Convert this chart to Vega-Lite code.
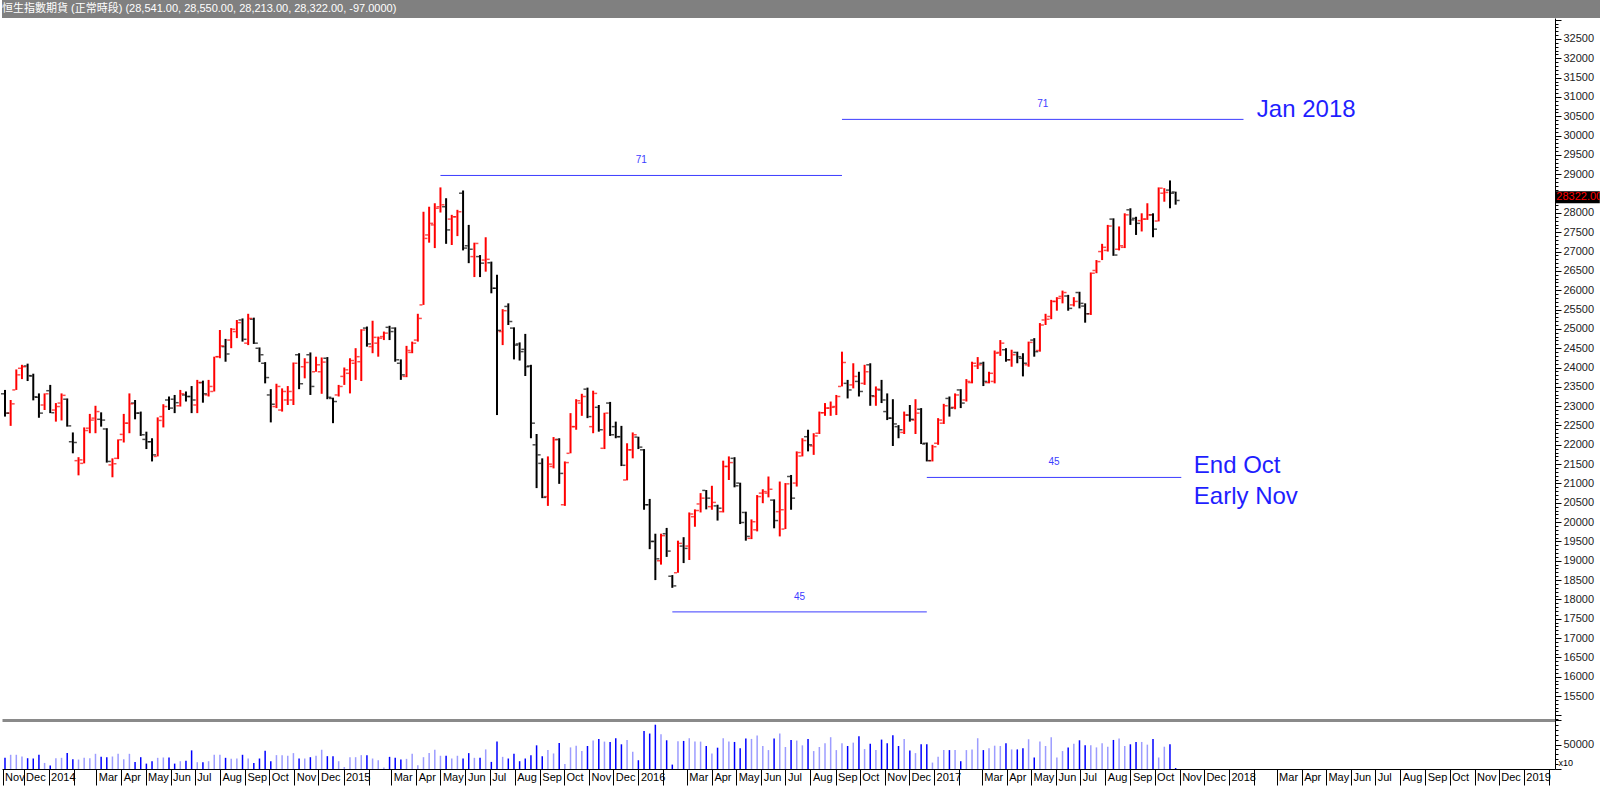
{
  "$schema": "https://vega.github.io/schema/vega-lite/v6.json",
  "padding": 0,
  "background": "white",
  "spacing": 0,
  "bounds": "flush",
  "config": {"view": {"stroke": null}, "axis": {"grid": false, "labelFont": "Liberation Sans", "domainColor": "#000000", "tickColor": "#000000"}},
  "datasets": {
    "bars": [
      {"d":"2013-11-08","o":23320,"h":23420,"l":22730,"c":22820,"v":22800},
      {"d":"2013-11-15","o":22820,"h":23160,"l":22490,"c":23060,"v":29000},
      {"d":"2013-11-22","o":23420,"h":23950,"l":23420,"c":23810,"v":29000},
      {"d":"2013-11-29","o":23980,"h":24070,"l":23700,"c":24020,"v":25500},
      {"d":"2013-12-06","o":24040,"h":24100,"l":23650,"c":23790,"v":22000},
      {"d":"2013-12-13","o":23780,"h":23840,"l":23150,"c":23240,"v":21400},
      {"d":"2013-12-20","o":23230,"h":23330,"l":22700,"c":22820,"v":29000},
      {"d":"2013-12-27","o":23030,"h":23330,"l":22900,"c":23320,"v":12400},
      {"d":"2014-01-03","o":23400,"h":23550,"l":22820,"c":22830,"v":6900},
      {"d":"2014-01-10","o":22900,"h":23080,"l":22600,"c":22990,"v":22000},
      {"d":"2014-01-17","o":23080,"h":23330,"l":22630,"c":23280,"v":22800},
      {"d":"2014-01-24","o":23180,"h":23200,"l":22470,"c":22490,"v":32400},
      {"d":"2014-01-31","o":22080,"h":22320,"l":21780,"c":22060,"v":20000},
      {"d":"2014-02-07","o":21590,"h":21680,"l":21210,"c":21610,"v":19300},
      {"d":"2014-02-14","o":21520,"h":22450,"l":21520,"c":22370,"v":22800},
      {"d":"2014-02-21","o":22430,"h":22800,"l":22300,"c":22640,"v":22000},
      {"d":"2014-02-28","o":22690,"h":23010,"l":22300,"c":22860,"v":31000},
      {"d":"2014-03-07","o":22660,"h":22840,"l":22470,"c":22640,"v":24800},
      {"d":"2014-03-14","o":22410,"h":22430,"l":21540,"c":21570,"v":24100},
      {"d":"2014-03-21","o":21480,"h":21650,"l":21160,"c":21510,"v":25500},
      {"d":"2014-03-28","o":21650,"h":22140,"l":21630,"c":22130,"v":31000},
      {"d":"2014-04-04","o":22270,"h":22800,"l":22060,"c":22560,"v":20000},
      {"d":"2014-04-11","o":22560,"h":23330,"l":22300,"c":23060,"v":31000},
      {"d":"2014-04-18","o":23080,"h":23160,"l":22660,"c":22820,"v":14500},
      {"d":"2014-04-25","o":22820,"h":22860,"l":22230,"c":22260,"v":24100},
      {"d":"2014-05-02","o":22140,"h":22340,"l":21890,"c":22080,"v":11000},
      {"d":"2014-05-09","o":22080,"h":22170,"l":21570,"c":21740,"v":15900},
      {"d":"2014-05-16","o":21700,"h":22710,"l":21700,"c":22630,"v":22800},
      {"d":"2014-05-23","o":22730,"h":23050,"l":22450,"c":22990,"v":23500},
      {"d":"2014-05-30","o":23160,"h":23250,"l":22900,"c":22950,"v":23500},
      {"d":"2014-06-06","o":23180,"h":23290,"l":22820,"c":23090,"v":11000},
      {"d":"2014-06-13","o":23010,"h":23420,"l":22990,"c":23320,"v":15900},
      {"d":"2014-06-20","o":23290,"h":23380,"l":23120,"c":23250,"v":16600},
      {"d":"2014-06-27","o":23250,"h":23520,"l":22820,"c":23160,"v":38000},
      {"d":"2014-07-04","o":23030,"h":23680,"l":22820,"c":23610,"v":13800},
      {"d":"2014-07-11","o":23610,"h":23660,"l":23090,"c":23320,"v":13800},
      {"d":"2014-07-18","o":23290,"h":23680,"l":23250,"c":23510,"v":15900},
      {"d":"2014-07-25","o":23380,"h":24280,"l":23380,"c":24280,"v":29000},
      {"d":"2014-08-01","o":24280,"h":24970,"l":24240,"c":24560,"v":29000},
      {"d":"2014-08-08","o":24540,"h":24740,"l":24150,"c":24350,"v":22800},
      {"d":"2014-08-15","o":24710,"h":25020,"l":24500,"c":24990,"v":20700},
      {"d":"2014-08-22","o":24930,"h":25230,"l":24760,"c":25160,"v":21400},
      {"d":"2014-08-29","o":25230,"h":25270,"l":24670,"c":24730,"v":29000},
      {"d":"2014-09-05","o":24630,"h":25390,"l":24580,"c":25270,"v":21400},
      {"d":"2014-09-12","o":25250,"h":25290,"l":24610,"c":24630,"v":12400},
      {"d":"2014-09-19","o":24500,"h":24520,"l":24140,"c":24330,"v":21400},
      {"d":"2014-09-26","o":24110,"h":24140,"l":23590,"c":23740,"v":37300},
      {"d":"2014-10-03","o":23290,"h":23440,"l":22580,"c":23050,"v":15900},
      {"d":"2014-10-10","o":22990,"h":23580,"l":22950,"c":23510,"v":28300},
      {"d":"2014-10-17","o":22900,"h":23460,"l":22860,"c":23380,"v":28300},
      {"d":"2014-10-24","o":23160,"h":23520,"l":23030,"c":23380,"v":27000},
      {"d":"2014-10-31","o":23160,"h":24130,"l":23030,"c":24110,"v":32400},
      {"d":"2014-11-07","o":24330,"h":24370,"l":23440,"c":23580,"v":21400},
      {"d":"2014-11-14","o":24020,"h":24240,"l":23720,"c":24130,"v":21400},
      {"d":"2014-11-21","o":24330,"h":24390,"l":23290,"c":23510,"v":24100},
      {"d":"2014-11-28","o":23890,"h":24280,"l":23890,"c":24070,"v":27000},
      {"d":"2014-12-05","o":23890,"h":24260,"l":23320,"c":24140,"v":39300},
      {"d":"2014-12-12","o":24240,"h":24270,"l":23180,"c":23230,"v":26200},
      {"d":"2014-12-19","o":23200,"h":23220,"l":22560,"c":23120,"v":26200},
      {"d":"2014-12-26","o":23290,"h":23550,"l":23250,"c":23510,"v":15900},
      {"d":"2015-01-02","o":23770,"h":24000,"l":23550,"c":23940,"v":4100},
      {"d":"2015-01-09","o":23850,"h":24240,"l":23330,"c":24180,"v":24100},
      {"d":"2015-01-16","o":24110,"h":24500,"l":23680,"c":24280,"v":24100},
      {"d":"2015-01-23","o":24150,"h":24990,"l":23650,"c":24970,"v":28300},
      {"d":"2015-01-30","o":25020,"h":25060,"l":24540,"c":24610,"v":28300},
      {"d":"2015-02-06","o":24540,"h":25210,"l":24370,"c":24780,"v":21400},
      {"d":"2015-02-13","o":24630,"h":24800,"l":24280,"c":24760,"v":17900},
      {"d":"2015-02-20","o":24800,"h":24930,"l":24710,"c":24890,"v":3000},
      {"d":"2015-02-27","o":25040,"h":25080,"l":24710,"c":24930,"v":24800},
      {"d":"2015-03-06","o":25020,"h":25040,"l":24150,"c":24200,"v":22800},
      {"d":"2015-03-13","o":24110,"h":24210,"l":23680,"c":23810,"v":19300},
      {"d":"2015-03-20","o":23770,"h":24560,"l":23750,"c":24440,"v":20700},
      {"d":"2015-03-27","o":24390,"h":24670,"l":24370,"c":24630,"v":31000},
      {"d":"2015-04-03","o":24710,"h":25390,"l":24670,"c":25270,"v":7600},
      {"d":"2015-04-10","o":25620,"h":28030,"l":25620,"c":27340,"v":24100},
      {"d":"2015-04-17","o":27430,"h":28160,"l":27230,"c":27730,"v":32400},
      {"d":"2015-04-24","o":27690,"h":28250,"l":27090,"c":28120,"v":39300},
      {"d":"2015-05-01","o":28160,"h":28660,"l":28010,"c":28210,"v":27000},
      {"d":"2015-05-08","o":28160,"h":28380,"l":27200,"c":27560,"v":27000},
      {"d":"2015-05-15","o":27840,"h":27950,"l":27170,"c":27900,"v":21400},
      {"d":"2015-05-22","o":27900,"h":28080,"l":27400,"c":28030,"v":27000},
      {"d":"2015-05-29","o":28510,"h":28580,"l":27030,"c":27090,"v":21400},
      {"d":"2015-06-05","o":27150,"h":27690,"l":26700,"c":27060,"v":32400},
      {"d":"2015-06-12","o":26870,"h":27230,"l":26340,"c":27210,"v":22800},
      {"d":"2015-06-19","o":26870,"h":26910,"l":26340,"c":26700,"v":22800},
      {"d":"2015-06-26","o":26780,"h":27370,"l":26480,"c":26800,"v":40000},
      {"d":"2015-07-03","o":26710,"h":26740,"l":25920,"c":26050,"v":14500},
      {"d":"2015-07-10","o":26050,"h":26400,"l":22770,"c":24960,"v":55900},
      {"d":"2015-07-17","o":24930,"h":25510,"l":24580,"c":25470,"v":24800},
      {"d":"2015-07-24","o":25580,"h":25660,"l":25100,"c":25190,"v":21400},
      {"d":"2015-07-31","o":25020,"h":25040,"l":24210,"c":24580,"v":31000},
      {"d":"2015-08-07","o":24610,"h":24650,"l":24180,"c":24410,"v":15900},
      {"d":"2015-08-14","o":24470,"h":24870,"l":23780,"c":24020,"v":21400},
      {"d":"2015-08-21","o":24040,"h":24070,"l":22170,"c":22560,"v":28300},
      {"d":"2015-08-28","o":22000,"h":22280,"l":20880,"c":21740,"v":48300},
      {"d":"2015-09-04","o":21520,"h":21650,"l":20620,"c":20640,"v":26200},
      {"d":"2015-09-11","o":20660,"h":21700,"l":20420,"c":21500,"v":38600},
      {"d":"2015-09-18","o":21440,"h":22200,"l":21390,"c":22130,"v":31700},
      {"d":"2015-09-25","o":22140,"h":22170,"l":20990,"c":21260,"v":53100},
      {"d":"2015-10-02","o":20450,"h":21570,"l":20420,"c":21540,"v":10300},
      {"d":"2015-10-09","o":21780,"h":22820,"l":21780,"c":22470,"v":44100},
      {"d":"2015-10-16","o":22470,"h":23180,"l":22390,"c":23140,"v":47600},
      {"d":"2015-10-23","o":23080,"h":23320,"l":22750,"c":23250,"v":36600},
      {"d":"2015-10-30","o":23440,"h":23480,"l":22690,"c":22730,"v":46900},
      {"d":"2015-11-06","o":22470,"h":23400,"l":22300,"c":23330,"v":58000},
      {"d":"2015-11-13","o":22970,"h":23030,"l":22340,"c":22390,"v":61400},
      {"d":"2015-11-20","o":21910,"h":22830,"l":21890,"c":22820,"v":55900},
      {"d":"2015-11-27","o":23080,"h":23110,"l":22230,"c":22260,"v":55200},
      {"d":"2015-12-04","o":22470,"h":22600,"l":22170,"c":22210,"v":62800},
      {"d":"2015-12-11","o":22210,"h":22490,"l":21450,"c":21470,"v":50400},
      {"d":"2015-12-18","o":21090,"h":22040,"l":21080,"c":21870,"v":59300},
      {"d":"2015-12-25","o":21870,"h":22320,"l":21650,"c":22260,"v":35200},
      {"d":"2016-01-01","o":22200,"h":22210,"l":21890,"c":21940,"v":17900},
      {"d":"2016-01-08","o":21870,"h":21890,"l":20320,"c":20450,"v":77300},
      {"d":"2016-01-15","o":20450,"h":20600,"l":19300,"c":19500,"v":72400},
      {"d":"2016-01-22","o":19500,"h":19700,"l":18500,"c":19050,"v":90400},
      {"d":"2016-01-29","o":19000,"h":19700,"l":18900,"c":19650,"v":71100},
      {"d":"2016-02-05","o":19700,"h":19850,"l":19100,"c":19250,"v":58600},
      {"d":"2016-02-12","o":18600,"h":18630,"l":18300,"c":18350,"v":9000},
      {"d":"2016-02-19","o":18690,"h":19520,"l":18690,"c":19450,"v":56600},
      {"d":"2016-02-26","o":19380,"h":19610,"l":18940,"c":19320,"v":57300},
      {"d":"2016-03-04","o":19380,"h":20250,"l":19020,"c":20210,"v":62800},
      {"d":"2016-03-11","o":20140,"h":20330,"l":19880,"c":20300,"v":55900},
      {"d":"2016-03-18","o":20470,"h":20750,"l":20250,"c":20620,"v":55900},
      {"d":"2016-03-25","o":20820,"h":20830,"l":20330,"c":20620,"v":46900},
      {"d":"2016-04-01","o":20400,"h":20940,"l":20320,"c":20510,"v":31700},
      {"d":"2016-04-08","o":20420,"h":20450,"l":20040,"c":20360,"v":43500},
      {"d":"2016-04-15","o":20270,"h":21590,"l":20250,"c":21440,"v":62800},
      {"d":"2016-04-22","o":21440,"h":21700,"l":21090,"c":21540,"v":55900},
      {"d":"2016-04-29","o":21650,"h":21680,"l":20900,"c":20940,"v":55200},
      {"d":"2016-05-06","o":21010,"h":21020,"l":19950,"c":19990,"v":42100},
      {"d":"2016-05-13","o":20250,"h":20270,"l":19520,"c":19630,"v":62100},
      {"d":"2016-05-20","o":19580,"h":20070,"l":19560,"c":20010,"v":61400},
      {"d":"2016-05-27","o":19800,"h":20700,"l":19760,"c":20660,"v":68300},
      {"d":"2016-06-03","o":20750,"h":20850,"l":20490,"c":20790,"v":46900},
      {"d":"2016-06-10","o":20750,"h":21180,"l":20640,"c":20850,"v":38600},
      {"d":"2016-06-17","o":20570,"h":20590,"l":19840,"c":20040,"v":62100},
      {"d":"2016-06-24","o":20270,"h":21050,"l":19630,"c":20320,"v":72400},
      {"d":"2016-07-01","o":19820,"h":21010,"l":19820,"c":20990,"v":44900},
      {"d":"2016-07-08","o":21180,"h":21220,"l":20320,"c":20620,"v":59300},
      {"d":"2016-07-15","o":21010,"h":21830,"l":20920,"c":21800,"v":58000},
      {"d":"2016-07-22","o":21710,"h":22170,"l":21700,"c":22110,"v":48300},
      {"d":"2016-07-29","o":22210,"h":22390,"l":21830,"c":22000,"v":61400},
      {"d":"2016-08-05","o":21970,"h":22300,"l":21740,"c":22230,"v":36600},
      {"d":"2016-08-12","o":22300,"h":22860,"l":22280,"c":22830,"v":44900},
      {"d":"2016-08-19","o":22830,"h":23080,"l":22750,"c":22950,"v":52400},
      {"d":"2016-08-26","o":22950,"h":23120,"l":22750,"c":22970,"v":64900},
      {"d":"2016-09-02","o":22990,"h":23290,"l":22770,"c":23250,"v":38600},
      {"d":"2016-09-09","o":23510,"h":24410,"l":23510,"c":24130,"v":52400},
      {"d":"2016-09-16","o":23590,"h":23680,"l":23200,"c":23420,"v":46900},
      {"d":"2016-09-23","o":23550,"h":24110,"l":23460,"c":23770,"v":53800},
      {"d":"2016-09-30","o":23640,"h":23890,"l":23250,"c":23380,"v":66900},
      {"d":"2016-10-07","o":23590,"h":24070,"l":23550,"c":23890,"v":40700},
      {"d":"2016-10-14","o":24070,"h":24110,"l":23010,"c":23270,"v":51700},
      {"d":"2016-10-21","o":23250,"h":23510,"l":23010,"c":23440,"v":38600},
      {"d":"2016-10-28","o":23420,"h":23680,"l":23080,"c":23160,"v":60000},
      {"d":"2016-11-04","o":22860,"h":23330,"l":22640,"c":22690,"v":52400},
      {"d":"2016-11-11","o":22690,"h":23180,"l":21970,"c":22540,"v":69000},
      {"d":"2016-11-18","o":22470,"h":22510,"l":22170,"c":22390,"v":46900},
      {"d":"2016-11-25","o":22320,"h":22860,"l":22280,"c":22770,"v":61400},
      {"d":"2016-12-02","o":22770,"h":23030,"l":22600,"c":22660,"v":38000},
      {"d":"2016-12-09","o":22640,"h":23180,"l":22280,"c":22820,"v":32400},
      {"d":"2016-12-16","o":22920,"h":22950,"l":22020,"c":22020,"v":50400},
      {"d":"2016-12-23","o":22040,"h":22060,"l":21570,"c":21590,"v":50400},
      {"d":"2016-12-30","o":21590,"h":22000,"l":21570,"c":21950,"v":13100},
      {"d":"2017-01-06","o":22040,"h":22690,"l":22000,"c":22640,"v":24800},
      {"d":"2017-01-13","o":22560,"h":23060,"l":22540,"c":23010,"v":38600},
      {"d":"2017-01-20","o":23200,"h":23250,"l":22730,"c":22950,"v":38600},
      {"d":"2017-01-27","o":22970,"h":23330,"l":22920,"c":23290,"v":38600},
      {"d":"2017-02-03","o":23420,"h":23440,"l":22950,"c":23080,"v":15900},
      {"d":"2017-02-10","o":23160,"h":23700,"l":23120,"c":23640,"v":38600},
      {"d":"2017-02-17","o":23610,"h":24150,"l":23590,"c":24110,"v":40000},
      {"d":"2017-02-24","o":24040,"h":24270,"l":23960,"c":24070,"v":62800},
      {"d":"2017-03-03","o":24110,"h":24150,"l":23520,"c":23640,"v":38600},
      {"d":"2017-03-10","o":23610,"h":23890,"l":23590,"c":23850,"v":42100},
      {"d":"2017-03-17","o":23640,"h":24440,"l":23590,"c":24370,"v":47600},
      {"d":"2017-03-24","o":24390,"h":24710,"l":24300,"c":24630,"v":46900},
      {"d":"2017-03-31","o":24460,"h":24500,"l":24150,"c":24200,"v":52400},
      {"d":"2017-04-07","o":24200,"h":24460,"l":24020,"c":24330,"v":40000},
      {"d":"2017-04-14","o":24390,"h":24410,"l":24110,"c":24280,"v":40000},
      {"d":"2017-04-21","o":24240,"h":24370,"l":23770,"c":24110,"v":42100},
      {"d":"2017-04-28","o":24070,"h":24670,"l":24020,"c":24650,"v":60700},
      {"d":"2017-05-05","o":24710,"h":24760,"l":24280,"c":24410,"v":23500},
      {"d":"2017-05-12","o":24440,"h":25150,"l":24410,"c":25100,"v":55900},
      {"d":"2017-05-19","o":25230,"h":25390,"l":25100,"c":25250,"v":46900},
      {"d":"2017-05-26","o":25320,"h":25750,"l":25250,"c":25710,"v":64900},
      {"d":"2017-06-02","o":25710,"h":25820,"l":25470,"c":25790,"v":23500},
      {"d":"2017-06-09","o":25840,"h":25990,"l":25660,"c":25940,"v":36600},
      {"d":"2017-06-16","o":25850,"h":25880,"l":25470,"c":25530,"v":44100},
      {"d":"2017-06-23","o":25620,"h":25820,"l":25580,"c":25710,"v":51700},
      {"d":"2017-06-30","o":25940,"h":25960,"l":25530,"c":25660,"v":58600},
      {"d":"2017-07-07","o":25590,"h":25660,"l":25160,"c":25390,"v":48300},
      {"d":"2017-07-14","o":25390,"h":26460,"l":25360,"c":26440,"v":48300},
      {"d":"2017-07-21","o":26510,"h":26780,"l":26440,"c":26740,"v":44100},
      {"d":"2017-07-28","o":27000,"h":27200,"l":26780,"c":27110,"v":52400},
      {"d":"2017-08-04","o":27030,"h":27690,"l":27000,"c":27660,"v":45500},
      {"d":"2017-08-11","o":27840,"h":27860,"l":26890,"c":26910,"v":59300},
      {"d":"2017-08-18","o":27060,"h":27650,"l":27030,"c":27150,"v":62100},
      {"d":"2017-08-25","o":27110,"h":27990,"l":27090,"c":27950,"v":46900},
      {"d":"2017-09-01","o":28080,"h":28120,"l":27690,"c":27820,"v":50400},
      {"d":"2017-09-08","o":27860,"h":27900,"l":27430,"c":27730,"v":55200},
      {"d":"2017-09-15","o":27800,"h":27990,"l":27520,"c":27840,"v":55200},
      {"d":"2017-09-22","o":27840,"h":28250,"l":27820,"c":27950,"v":49700},
      {"d":"2017-09-29","o":27950,"h":27990,"l":27370,"c":27580,"v":61400},
      {"d":"2017-10-06","o":27790,"h":28660,"l":27780,"c":28640,"v":23500},
      {"d":"2017-10-13","o":28510,"h":28640,"l":28290,"c":28530,"v":45500},
      {"d":"2017-10-20","o":28590,"h":28840,"l":28120,"c":28510,"v":50400},
      {"d":"2017-10-27","o":28541,"h":28550,"l":28213,"c":28322,"v":2000}
    ],
    "spans": [
      {"d1":"2015-05-01","d2":"2016-09-09","dm":"2016-01-04T12:00:00Z","p":28969,"n":"71"},
      {"d1":"2016-09-09","d2":"2018-01-19","dm":"2017-05-15T12:00:00Z","p":30420,"n":"71"},
      {"d1":"2016-02-12","d2":"2016-12-23","dm":"2016-07-18T12:00:00Z","p":17677,"n":"45"},
      {"d1":"2016-12-23","d2":"2017-11-03","dm":"2017-05-29T12:00:00Z","p":21156,"n":"45"}
    ],
    "notes": [
      {"d":"2018-02-04T12:00:00Z","p":30663,"t":"Jan 2018"},
      {"d":"2017-11-18T12:00:00Z","p":21446,"t":"End Oct"},
      {"d":"2017-11-18T12:00:00Z","p":20651,"t":"Early Nov"}
    ],
    "last": [{"c": 28322, "t": "28322.00"}]
  },
  "vconcat": [
    {
      "width": 1600,
      "height": 18,
      "view": {"fill": "#808080", "stroke": null},
      "data": {"values": [{"t": "恒生指數期貨 (正常時段) (28,541.00, 28,550.00, 28,213.00, 28,322.00, -97.0000)"}]},
      "mark": {"type": "text", "align": "left", "baseline": "middle", "fontSize": 11, "color": "#ffffff", "font": "'Liberation Sans', 'Noto Sans CJK TC', sans-serif"},
      "encoding": {"text": {"field": "t", "type": "nominal"}, "x": {"value": 0}, "y": {"value": 9}}
    },
    {
      "width": 1553,
      "height": 702,
      "layer": [
        {
          "data": {"name": "bars"},
          "mark": {"type": "rule", "strokeWidth": 2},
          "encoding": {
            "x": {"field": "d", "type": "temporal", "scale": {"type": "utc", "domain": [{"year": 2013, "month": 11, "date": 4, "hours": 7, "utc": true}, {"year": 2019, "month": 2, "date": 8, "hours": 14, "utc": true}]}, "axis": {"orient": "bottom", "labels": false, "ticks": false, "domain": true, "domainColor": "#8a8a8a", "domainWidth": 3, "title": null}},
            "y": {"field": "l", "type": "quantitative", "scale": {"domain": [14880, 33043], "nice": false, "zero": false}, "axis": {"orient": "right", "title": null, "tickCount": 180, "labelExpr": "(datum.value % 500 === 0 && datum.value >= 15500 && datum.value <= 32500 && datum.value !== 28500) ? '' + datum.value : ''", "labelOverlap": false, "labelFontSize": 11, "labelColor": "#222222", "labelPadding": 2, "tickSize": {"condition": {"test": "datum.value % 500 === 0", "value": 6}, "value": 3}}},
            "y2": {"field": "h"},
            "color": {"condition": {"test": "datum.c >= datum.o", "value": "#ff0000"}, "value": "#000000"}
          }
        },
        {
          "data": {"name": "bars"},
          "mark": {"type": "tick", "orient": "horizontal", "size": 3, "thickness": 1.5, "xOffset": -2.5},
          "encoding": {
            "x": {"field": "d", "type": "temporal", "scale": {"type": "utc", "domain": [{"year": 2013, "month": 11, "date": 4, "hours": 7, "utc": true}, {"year": 2019, "month": 2, "date": 8, "hours": 14, "utc": true}]}},
            "y": {"field": "o", "type": "quantitative", "scale": {"domain": [14880, 33043], "nice": false, "zero": false}},
            "color": {"condition": {"test": "datum.c >= datum.o", "value": "#ff0000"}, "value": "#000000"}
          }
        },
        {
          "data": {"name": "bars"},
          "mark": {"type": "tick", "orient": "horizontal", "size": 3, "thickness": 1.5, "xOffset": 2.5},
          "encoding": {
            "x": {"field": "d", "type": "temporal", "scale": {"type": "utc", "domain": [{"year": 2013, "month": 11, "date": 4, "hours": 7, "utc": true}, {"year": 2019, "month": 2, "date": 8, "hours": 14, "utc": true}]}},
            "y": {"field": "c", "type": "quantitative", "scale": {"domain": [14880, 33043], "nice": false, "zero": false}},
            "color": {"condition": {"test": "datum.c >= datum.o", "value": "#ff0000"}, "value": "#000000"}
          }
        },
        {
          "data": {"name": "spans"},
          "mark": {"type": "rule", "color": "#3c3cff", "strokeWidth": 1},
          "encoding": {
            "x": {"field": "d1", "type": "temporal", "scale": {"type": "utc", "domain": [{"year": 2013, "month": 11, "date": 4, "hours": 7, "utc": true}, {"year": 2019, "month": 2, "date": 8, "hours": 14, "utc": true}]}},
            "x2": {"field": "d2"},
            "y": {"field": "p", "type": "quantitative", "scale": {"domain": [14880, 33043], "nice": false, "zero": false}}
          }
        },
        {
          "data": {"name": "spans"},
          "mark": {"type": "text", "dy": -15, "fontSize": 10, "color": "#3c3cff", "font": "Liberation Sans"},
          "encoding": {
            "x": {"field": "dm", "type": "temporal", "scale": {"type": "utc", "domain": [{"year": 2013, "month": 11, "date": 4, "hours": 7, "utc": true}, {"year": 2019, "month": 2, "date": 8, "hours": 14, "utc": true}]}},
            "y": {"field": "p", "type": "quantitative", "scale": {"domain": [14880, 33043], "nice": false, "zero": false}},
            "text": {"field": "n", "type": "nominal"}
          }
        },
        {
          "data": {"name": "notes"},
          "mark": {"type": "text", "align": "left", "baseline": "middle", "fontSize": 24, "color": "#1f1fff", "font": "Liberation Sans"},
          "encoding": {
            "x": {"field": "d", "type": "temporal", "scale": {"type": "utc", "domain": [{"year": 2013, "month": 11, "date": 4, "hours": 7, "utc": true}, {"year": 2019, "month": 2, "date": 8, "hours": 14, "utc": true}]}},
            "y": {"field": "p", "type": "quantitative", "scale": {"domain": [14880, 33043], "nice": false, "zero": false}},
            "text": {"field": "t", "type": "nominal"}
          }
        },
        {
          "data": {"name": "last"},
          "mark": {"type": "rect", "color": "#000000", "clip": false},
          "encoding": {
            "x": {"datum": {"year": 2019, "month": 2, "date": 9, "utc": true}, "type": "temporal", "scale": {"type": "utc", "domain": [{"year": 2013, "month": 11, "date": 4, "hours": 7, "utc": true}, {"year": 2019, "month": 2, "date": 8, "hours": 14, "utc": true}]}},
            "x2": {"datum": {"year": 2019, "month": 4, "date": 5, "utc": true}},
            "y": {"datum": 28560, "type": "quantitative", "scale": {"domain": [14880, 33043], "nice": false, "zero": false}},
            "y2": {"datum": 28250}
          }
        },
        {
          "data": {"name": "last"},
          "mark": {"type": "text", "align": "left", "baseline": "middle", "dx": 1, "dy": -3, "fontSize": 11, "color": "#ff0000", "font": "Liberation Sans", "clip": false},
          "encoding": {
            "x": {"datum": {"year": 2019, "month": 2, "date": 9, "utc": true}, "type": "temporal", "scale": {"type": "utc", "domain": [{"year": 2013, "month": 11, "date": 4, "hours": 7, "utc": true}, {"year": 2019, "month": 2, "date": 8, "hours": 14, "utc": true}]}},
            "y": {"field": "c", "type": "quantitative", "scale": {"domain": [14880, 33043], "nice": false, "zero": false}},
            "text": {"field": "t", "type": "nominal"}
          }
        }
      ]
    },
    {
      "width": 1553,
      "height": 49,
      "data": {"name": "bars"},
      "mark": {"type": "rule", "strokeWidth": 1.5},
      "encoding": {
        "x": {"field": "d", "type": "temporal", "scale": {"type": "utc", "domain": [{"year": 2013, "month": 11, "date": 4, "hours": 7, "utc": true}, {"year": 2019, "month": 2, "date": 8, "hours": 14, "utc": true}]}, "axis": {"orient": "bottom", "title": null,
          "values": [
            {"year":2013,"month":11,"date":5,"utc":true},{"year":2013,"month":12,"date":1,"utc":true},
            {"year":2014,"month":1,"date":1,"utc":true},{"year":2014,"month":2,"date":1,"utc":true},{"year":2014,"month":3,"date":1,"utc":true},{"year":2014,"month":4,"date":1,"utc":true},{"year":2014,"month":5,"date":1,"utc":true},{"year":2014,"month":6,"date":1,"utc":true},{"year":2014,"month":7,"date":1,"utc":true},{"year":2014,"month":8,"date":1,"utc":true},{"year":2014,"month":9,"date":1,"utc":true},{"year":2014,"month":10,"date":1,"utc":true},{"year":2014,"month":11,"date":1,"utc":true},{"year":2014,"month":12,"date":1,"utc":true},
            {"year":2015,"month":1,"date":1,"utc":true},{"year":2015,"month":2,"date":1,"utc":true},{"year":2015,"month":3,"date":1,"utc":true},{"year":2015,"month":4,"date":1,"utc":true},{"year":2015,"month":5,"date":1,"utc":true},{"year":2015,"month":6,"date":1,"utc":true},{"year":2015,"month":7,"date":1,"utc":true},{"year":2015,"month":8,"date":1,"utc":true},{"year":2015,"month":9,"date":1,"utc":true},{"year":2015,"month":10,"date":1,"utc":true},{"year":2015,"month":11,"date":1,"utc":true},{"year":2015,"month":12,"date":1,"utc":true},
            {"year":2016,"month":1,"date":1,"utc":true},{"year":2016,"month":2,"date":1,"utc":true},{"year":2016,"month":3,"date":1,"utc":true},{"year":2016,"month":4,"date":1,"utc":true},{"year":2016,"month":5,"date":1,"utc":true},{"year":2016,"month":6,"date":1,"utc":true},{"year":2016,"month":7,"date":1,"utc":true},{"year":2016,"month":8,"date":1,"utc":true},{"year":2016,"month":9,"date":1,"utc":true},{"year":2016,"month":10,"date":1,"utc":true},{"year":2016,"month":11,"date":1,"utc":true},{"year":2016,"month":12,"date":1,"utc":true},
            {"year":2017,"month":1,"date":1,"utc":true},{"year":2017,"month":2,"date":1,"utc":true},{"year":2017,"month":3,"date":1,"utc":true},{"year":2017,"month":4,"date":1,"utc":true},{"year":2017,"month":5,"date":1,"utc":true},{"year":2017,"month":6,"date":1,"utc":true},{"year":2017,"month":7,"date":1,"utc":true},{"year":2017,"month":8,"date":1,"utc":true},{"year":2017,"month":9,"date":1,"utc":true},{"year":2017,"month":10,"date":1,"utc":true},{"year":2017,"month":11,"date":1,"utc":true},{"year":2017,"month":12,"date":1,"utc":true},
            {"year":2018,"month":1,"date":1,"utc":true},{"year":2018,"month":2,"date":1,"utc":true},{"year":2018,"month":3,"date":1,"utc":true},{"year":2018,"month":4,"date":1,"utc":true},{"year":2018,"month":5,"date":1,"utc":true},{"year":2018,"month":6,"date":1,"utc":true},{"year":2018,"month":7,"date":1,"utc":true},{"year":2018,"month":8,"date":1,"utc":true},{"year":2018,"month":9,"date":1,"utc":true},{"year":2018,"month":10,"date":1,"utc":true},{"year":2018,"month":11,"date":1,"utc":true},{"year":2018,"month":12,"date":1,"utc":true},
            {"year":2019,"month":1,"date":1,"utc":true},{"year":2019,"month":2,"date":1,"utc":true}
          ],
          "labelExpr": "utcmonth(datum.value) === 0 ? utcFormat(datum.value, '%Y') : (utcmonth(datum.value) === 1 ? '' : utcFormat(datum.value, '%b'))", "tickSize": 16, "labelAlign": "left", "labelBaseline": "top", "labelPadding": -14, "labelOffset": 2, "labelFontSize": 11, "labelColor": "#000000", "labelOverlap": false, "labelFlush": false, "labelBound": false}},
        "y": {"field": "v", "type": "quantitative", "scale": {"domain": [0, 100000], "nice": false}, "axis": {"orient": "right", "title": "x10", "titleAngle": 0, "titleAlign": "left", "titleBaseline": "middle", "titleX": 3, "titleY": 42, "titleFontSize": 9, "titleFontWeight": "normal", "tickCount": 10, "labelExpr": "datum.value === 50000 ? '50000' : ''", "labelOverlap": false, "labelFontSize": 11, "labelColor": "#222222", "labelPadding": 2, "tickSize": {"condition": {"test": "datum.value % 50000 === 0", "value": 6}, "value": 3}}},
        "y2": {"datum": 0},
        "color": {"condition": {"test": "datum.c < datum.o", "value": "#0000ff"}, "value": "#9c9cff"}
      }
    }
  ]
}
